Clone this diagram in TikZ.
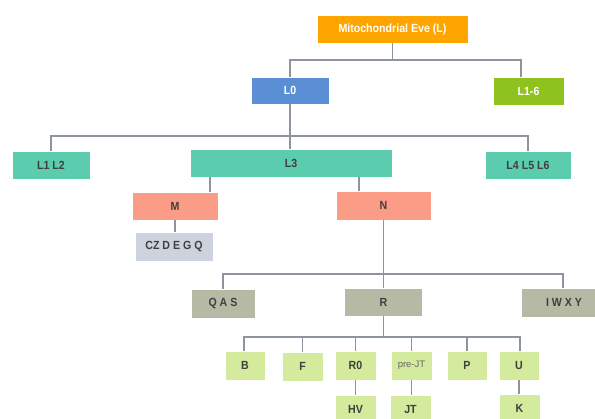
\documentclass[tikz,border=0pt]{standalone}
\usepackage{fontspec}
\setmainfont{Liberation Sans}
\newfontfamily\condfont[FakeStretch=0.9]{Liberation Sans}
\definecolor{cOrange}{HTML}{FFA500}
\definecolor{cBlue}{HTML}{5A8FD5}
\definecolor{cLime}{HTML}{8DC21F}
\definecolor{cTeal}{HTML}{5BCCAE}
\definecolor{cSalmon}{HTML}{FB9C87}
\definecolor{cSlate}{HTML}{CDD3DC}
\definecolor{cOlive}{HTML}{B6B9A4}
\definecolor{cPale}{HTML}{D4EA9C}
\definecolor{cLine}{HTML}{8C949E}
\definecolor{cText}{HTML}{3F3F3F}
\tikzset{
  box/.style={rectangle, inner sep=0pt, draw=white, line width=0.6pt,
    font=\condfont\bfseries\fontsize{11.8}{13}\selectfont, text=cText},
  wtext/.style={text=white},
  conn/.style={draw=cLine, line width=1.5pt},
}
\begin{document}
\begin{tikzpicture}[x=1pt,y=-1pt]
\useasboundingbox (0,0) rectangle (595,419);
\clip (0,0) rectangle (595,419);
\fill[white] (0,0) rectangle (595,419);
% level 0-1
\node[box,wtext,fill=cOrange,minimum width=151pt,minimum height=28pt] (eve) at (392.5,29) {Mitochondrial Eve (L)};
\node[box,wtext,fill=cBlue,minimum width=78pt,minimum height=27pt] (L0) at (290,90.5) {L0};
\node[box,wtext,fill=cLime,minimum width=71pt,minimum height=28pt] (L16) at (528.5,91) {L1-6};
% level 2
\node[box,fill=cTeal,minimum width=78pt,minimum height=28pt] (L12) at (51,165) {L1 L2};
\node[box,fill=cTeal,minimum width=202pt,minimum height=28pt] (L3) at (291,163) {L3};
\node[box,fill=cTeal,minimum width=86pt,minimum height=28pt] (L456) at (528,165) {L4 L5 L6};
% level 3
\node[box,fill=cSalmon,minimum width=86pt,minimum height=28pt] (M) at (175,206) {M};
\node[box,fill=cSalmon,minimum width=95pt,minimum height=29pt] (N) at (383.5,205.5) {N};
\node[box,fill=cSlate,minimum width=78pt,minimum height=29pt] (CZ) at (174,246.5) {CZ D E G Q};
% level 4
\node[box,fill=cOlive,minimum width=64pt,minimum height=29pt] (QAS) at (223,303.5) {Q A S};
\node[box,fill=cOlive,minimum width=78pt,minimum height=28pt] (R) at (383.5,302) {R};
\node[box,fill=cOlive,minimum width=86pt,minimum height=29pt] (IWXY) at (564,302.5) {I W X Y};
% level 5
\node[box,fill=cPale,minimum width=40pt,minimum height=29pt] (B) at (245,365.5) {B};
\node[box,fill=cPale,minimum width=41pt,minimum height=29pt] (F) at (302.5,366.5) {F};
\node[box,fill=cPale,minimum width=41pt,minimum height=29pt] (R0) at (355.5,365.5) {R0};
\node[box,fill=cPale,minimum width=41pt,minimum height=29pt,font=\fontsize{9.5}{11}\selectfont,text=black!60] (preJT) at (411.5,365.5) {pre-JT};
\node[box,fill=cPale,minimum width=40pt,minimum height=29pt] (P) at (467,365.5) {P};
\node[box,fill=cPale,minimum width=40pt,minimum height=29pt] (U) at (519,365.5) {U};
% level 6
\node[box,fill=cPale,minimum width=41pt,minimum height=29pt] (HV) at (355.5,409.5) {HV};
\node[box,fill=cPale,minimum width=41pt,minimum height=29pt] (JT) at (410.5,409.5) {JT};
\node[box,fill=cPale,minimum width=41pt,minimum height=29pt] (K) at (519.5,408.5) {K};
% connectors
\coordinate (b1) at (290,60);
\coordinate (b2) at (290,136);
\coordinate (b4) at (383.5,274);
\coordinate (b5) at (383.5,337);
\draw[conn] (eve.south) -- (eve.south |- b1);
\draw[conn] (L0.north) |- ([xshift=-7.5pt]L16.north |- b1) -- ([xshift=-7.5pt]L16.north);
\draw[conn] (L0.south) -- (b2);
\draw[conn] (L12.north) |- (L456.north |- b2) -- (L456.north);
\draw[conn] (b2) -- ([xshift=-1pt]L3.north);
\draw[conn] ([xshift=35pt]M.north |- L3.south) -- ([xshift=35pt]M.north);
\draw[conn] ([xshift=-24.5pt]N.north |- L3.south) -- ([xshift=-24.5pt]N.north);
\draw[conn] (M.south) -- (CZ.north -| M.south);
\draw[conn] (N.south) -- (b4);
\draw[conn] (QAS.north) |- ([xshift=-1pt]IWXY.north |- b4) -- ([xshift=-1pt]IWXY.north);
\draw[conn] (b4) -- (R.north);
\draw[conn] (R.south) -- (b5);
\draw[conn] ([xshift=-1pt]B.north) |- ([xshift=1pt]U.north |- b5) -- ([xshift=1pt]U.north);
\draw[conn] (F.north) -- (F.north |- b5);
\draw[conn] (R0.north) -- (R0.north |- b5);
\draw[conn] (preJT.north) -- (preJT.north |- b5);
\draw[conn] (P.north) -- (P.north |- b5);
\draw[conn] (R0.south) -- (HV.north);
\draw[conn] (preJT.south) -- (JT.north -| preJT.south);
\draw[conn] (U.south) -- (K.north -| U.south);
\end{tikzpicture}
\end{document}
